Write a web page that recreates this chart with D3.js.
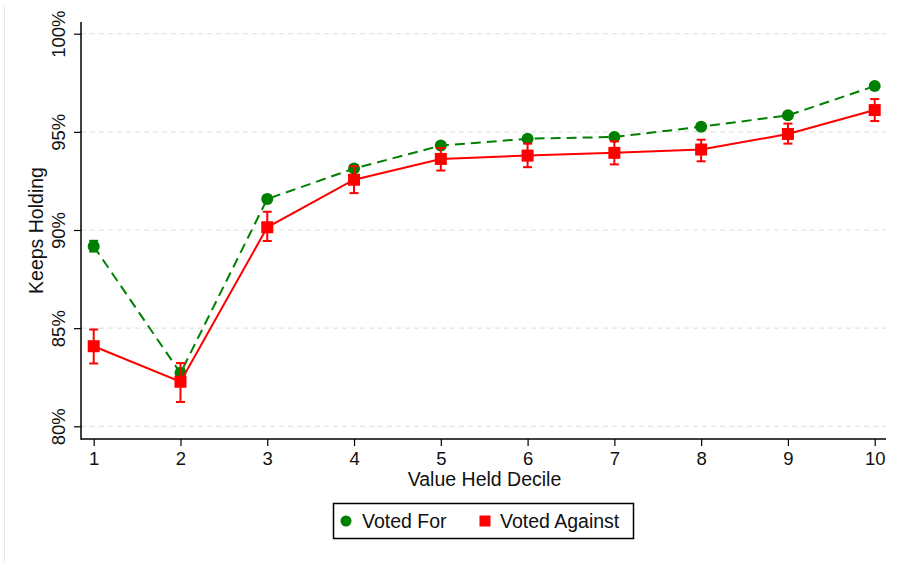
<!DOCTYPE html>
<html>
<head>
<meta charset="utf-8">
<script src="https://cdn.jsdelivr.net/npm/d3@7"></script>
<style>
  body { margin: 0; background: #fff; }
  svg { display: block; font-family: "Liberation Sans", Arial, sans-serif; }
</style>
</head>
<body>
<svg width="897" height="563"></svg>
<script>

/*  Data  */

var deciles = [1, 2, 3, 4, 5, 6, 7, 8, 9, 10];

var votedFor   = [89.17, 82.71, 91.58, 93.13, 94.30, 94.65, 94.74, 95.26, 95.84, 97.33];
var votedForLo = [88.90, 82.50, 91.42, 93.00, 94.18, 94.55, 94.64, 95.17, 95.76, 97.25];
var votedForHi = [89.45, 82.95, 91.75, 93.28, 94.42, 94.75, 94.84, 95.35, 95.92, 97.41];

var votedAgainst   = [84.08, 82.27, 90.14, 92.56, 93.62, 93.79, 93.93, 94.10, 94.89, 96.11];
var votedAgainstLo = [83.20, 81.24, 89.44, 91.88, 93.03, 93.20, 93.34, 93.50, 94.40, 95.55];
var votedAgainstHi = [84.93, 83.22, 90.93, 93.25, 94.18, 94.40, 94.52, 94.60, 95.42, 96.67];

var yTicks = [80, 85, 90, 95, 100];
var seriesNames = ["Voted For", "Voted Against"];


/*  Graph  */

var svg = d3.select("svg"),
    plotLeft = 81, plotRight = 886, plotTop = 22, plotBottom = 439;

var x = d3.scaleLinear()
    .domain([1, 10])
    .range([93.7, 874.7]);

var y = d3.scaleLinear()
    .domain([80, 100])
    .range([426.3, 33.7]);

// faint outer frame of the graph region
svg.append("line")
    .attr("x1", 4.5).attr("x2", 4.5)
    .attr("y1", 5).attr("y2", 563)
    .attr("stroke", "#e6e6e6")
    .attr("stroke-width", 1);

// grid
svg.append("g").selectAll("line")
    .data(yTicks)
  .enter().append("line")
    .attr("x1", plotLeft).attr("x2", plotRight)
    .attr("y1", function(d) { return y(d); })
    .attr("y2", function(d) { return y(d); })
    .attr("stroke", "#dcdcdc")
    .attr("stroke-width", 1)
    .attr("stroke-dasharray", "5,4");

// y axis
var yAxis = svg.append("g")
    .attr("transform", "translate(" + plotLeft + ",0)")
    .call(d3.axisLeft(y).tickValues(yTicks).tickSize(7).tickSizeOuter(0)
      .tickFormat(function(d) { return d + "%"; }));
yAxis.attr("font-family", null).attr("font-size", null);
yAxis.select(".domain").remove();
yAxis.selectAll(".tick line").attr("stroke", "#000").attr("stroke-width", 1.2);
yAxis.selectAll(".tick text")
    .attr("font-size", "18.5px")
    .attr("fill", "#111")
    .attr("transform", "rotate(-90)")
    .attr("x", 0).attr("y", -16.5)
    .attr("dy", 0)
    .attr("text-anchor", "middle");

// x axis
var xAxis = svg.append("g")
    .attr("transform", "translate(0," + plotBottom + ")")
    .call(d3.axisBottom(x).tickValues(deciles).tickSize(7).tickSizeOuter(0)
      .tickFormat(d3.format("d")));
xAxis.attr("font-family", null).attr("font-size", null);
xAxis.select(".domain").remove();
xAxis.selectAll(".tick line").attr("stroke", "#000").attr("stroke-width", 1.2);
xAxis.selectAll(".tick text")
    .attr("font-size", "18.5px")
    .attr("fill", "#111")
    .attr("y", 26).attr("dy", 0);

// axis lines
svg.append("line")
    .attr("x1", plotLeft).attr("x2", plotLeft)
    .attr("y1", plotTop).attr("y2", plotBottom + 0.75)
    .attr("stroke", "#000").attr("stroke-width", 1.5);
svg.append("line")
    .attr("x1", plotLeft).attr("x2", plotRight)
    .attr("y1", plotBottom).attr("y2", plotBottom)
    .attr("stroke", "#000").attr("stroke-width", 1.5);

// titles
svg.append("text")
    .attr("x", 484.5).attr("y", 486)
    .attr("text-anchor", "middle")
    .attr("font-size", "19.5px")
    .attr("fill", "#111")
    .text("Value Held Decile");

svg.append("text")
    .attr("transform", "translate(43," + ((plotTop + plotBottom) / 2) + ") rotate(-90)")
    .attr("text-anchor", "middle")
    .attr("font-size", "19.5px")
    .attr("fill", "#111")
    .text("Keeps Holding");

var line = d3.line()
    .x(function(d) { return x(d[0]); })
    .y(function(d) { return y(d[1]); });

function drawErrors(vals, lo, hi, color) {
  var g = svg.append("g").attr("stroke", color).attr("stroke-width", 2);
  deciles.forEach(function(d, i) {
    g.append("line").attr("x1", x(d)).attr("x2", x(d)).attr("y1", y(lo[i])).attr("y2", y(hi[i]));
    g.append("line").attr("x1", x(d) - 4.5).attr("x2", x(d) + 4.5).attr("y1", y(lo[i])).attr("y2", y(lo[i]));
    g.append("line").attr("x1", x(d) - 4.5).attr("x2", x(d) + 4.5).attr("y1", y(hi[i])).attr("y2", y(hi[i]));
  });
}

/*  Voted For: green dashed, circles  */
var green = "#008000";
svg.append("path")
    .datum(d3.zip(deciles, votedFor))
    .attr("d", line)
    .attr("fill", "none")
    .attr("stroke", green)
    .attr("stroke-width", 2)
    .attr("stroke-dasharray", "10,6");
drawErrors(votedFor, votedForLo, votedForHi, green);
svg.append("g").selectAll("circle")
    .data(votedFor)
  .enter().append("circle")
    .attr("cx", function(d, i) { return x(deciles[i]); })
    .attr("cy", function(d) { return y(d); })
    .attr("r", 6)
    .attr("fill", green);

/*  Voted Against: red solid, squares  */
var red = "#ff0000";
svg.append("path")
    .datum(d3.zip(deciles, votedAgainst))
    .attr("d", line)
    .attr("fill", "none")
    .attr("stroke", red)
    .attr("stroke-width", 2);
drawErrors(votedAgainst, votedAgainstLo, votedAgainstHi, red);
svg.append("g").selectAll("rect")
    .data(votedAgainst)
  .enter().append("rect")
    .attr("x", function(d, i) { return x(deciles[i]) - 6; })
    .attr("y", function(d) { return y(d) - 6; })
    .attr("width", 12).attr("height", 12)
    .attr("fill", red);

/*  Legend  */
var legend = svg.append("g");
legend.append("rect")
    .attr("x", 333.5).attr("y", 503.5)
    .attr("width", 300).attr("height", 35)
    .attr("fill", "#fff")
    .attr("stroke", "#000").attr("stroke-width", 1.5);
legend.append("circle")
    .attr("cx", 346).attr("cy", 521).attr("r", 5.5)
    .attr("fill", green);
legend.append("rect")
    .attr("x", 479.5).attr("y", 515.5).attr("width", 11).attr("height", 11)
    .attr("fill", red);
legend.append("text")
    .attr("x", 362).attr("y", 527.5)
    .attr("font-size", "19.5px").attr("fill", "#111")
    .text(seriesNames[0]);
legend.append("text")
    .attr("x", 500).attr("y", 527.5)
    .attr("font-size", "19.5px").attr("fill", "#111")
    .text(seriesNames[1]);

</script>
</body>
</html>
